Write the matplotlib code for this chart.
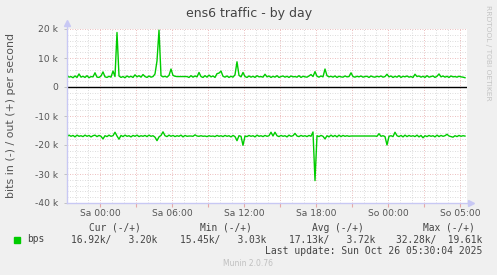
import matplotlib
matplotlib.use("Agg")
import matplotlib.pyplot as plt
import numpy as np
from matplotlib.lines import Line2D
from matplotlib.patches import Rectangle

# ---- data (values in k bits/s, 10-minute samples starting Fri 21:15) ----
t_start_hours = -2.75
step_hours = 1.0 / 6.0

out_k = [
    4.0, 3.4, 3.6, 3.2, 3.8, 3.3, 4.5, 3.4, 3.7, 3.3,
    3.9, 3.2, 3.6, 3.5, 4.9, 3.4, 3.3, 3.8, 5.2, 3.5,
    3.3, 3.7, 3.4, 5.5, 3.6, 18.8, 3.8, 3.3, 3.6, 3.2,
    3.8, 3.4, 3.7, 3.3, 4.2, 3.5, 3.9, 3.4, 4.3, 3.6,
    3.3, 3.8, 3.4, 3.6, 4.5, 9.0, 19.61, 3.9, 3.5, 3.7,
    3.4, 4.0, 6.2, 4.0, 3.7, 3.6, 3.6, 3.6, 3.6, 3.6,
    3.6, 3.3, 3.9, 3.4, 3.8, 3.5, 5.0, 3.6, 3.3, 3.9,
    3.4, 4.1, 3.5, 3.8, 3.3, 4.6, 4.8, 5.5, 3.7, 3.4,
    3.8, 3.3, 3.7, 3.4, 4.2, 8.7, 4.0, 3.5, 5.0, 3.6,
    3.3, 3.8, 3.4, 3.7, 3.3, 3.9, 3.5, 3.6, 3.4, 4.4,
    3.5, 3.8, 3.3, 3.7, 3.4, 3.9, 3.3, 3.6, 3.8, 3.4,
    3.7, 3.3, 3.8, 3.5, 3.6, 3.4, 3.9, 3.3, 3.7, 3.5,
    3.4, 3.8, 4.3, 3.6, 5.3, 3.7, 3.4, 3.8, 3.5, 6.2,
    3.9, 3.5, 3.7, 3.4, 3.8, 3.3, 3.7, 3.5, 3.4, 3.8,
    3.5, 3.6, 4.9, 3.6, 3.4, 3.7, 3.5, 3.8, 3.4, 3.6,
    3.7, 3.3, 3.8, 3.5, 3.4, 3.7, 3.5, 3.8, 3.4, 3.6,
    4.4, 3.5, 3.8, 3.3, 3.7, 3.4, 3.9, 3.3, 3.7, 3.5,
    3.8, 3.4, 3.6, 3.3, 4.4, 3.6, 3.8, 3.4, 3.7, 3.3,
    3.9, 3.4, 3.6, 3.8, 3.3, 3.7, 4.5, 3.5, 3.8, 3.4,
    3.7, 3.3, 3.8, 3.5, 3.6, 3.4, 3.7, 3.5, 3.4, 3.2,
]

in_k = [
    17.1, 16.6, 17.0, 16.7, 17.2, 16.6, 17.0, 16.8, 17.1, 16.6,
    17.0, 16.7, 17.2, 16.8, 16.6, 17.1, 16.7, 17.0, 17.9, 16.8,
    17.1, 16.6, 17.0, 16.8, 15.6, 16.9, 18.0, 16.7, 17.1, 16.6,
    17.0, 16.8, 17.2, 16.7, 17.0, 16.6, 17.1, 16.8, 17.0, 16.7,
    17.1, 16.6, 17.0, 16.8, 17.3, 18.5, 17.2, 16.7, 15.45, 16.8,
    17.1, 16.6, 17.0, 16.7, 17.1, 16.8, 17.0, 16.6, 17.2, 16.7,
    17.0, 16.9, 16.9, 17.0, 16.5, 16.9, 17.0, 16.8, 17.0, 16.9,
    17.1, 16.8, 17.0, 16.9, 17.1, 16.7, 17.0, 16.8, 17.1, 16.7,
    17.0, 16.8, 17.2, 16.7, 17.1, 18.5, 16.8, 17.0, 20.1, 16.9,
    17.1, 16.7, 17.0, 16.8, 17.2, 16.6, 17.0, 16.8, 17.1, 16.7,
    17.0, 16.8, 15.6, 16.9, 15.6, 16.8, 17.1, 16.7, 17.0, 16.8,
    17.2, 16.6, 17.0, 16.8, 16.0, 16.9, 17.1, 16.7, 17.0, 16.8,
    17.1, 16.7, 17.0, 15.5, 32.28, 16.8, 17.1, 16.7, 17.0, 17.9,
    16.8, 17.2, 16.6, 17.1, 16.7, 17.2, 16.6, 17.1, 16.7, 17.0,
    16.8, 17.0, 16.9, 16.9, 16.9, 16.9, 16.9, 16.9, 16.9, 16.9,
    16.9, 16.9, 16.9, 16.9, 16.9, 17.0, 16.1, 17.0, 16.8, 17.1,
    20.0, 17.0, 16.8, 17.1, 15.6, 16.8, 17.1, 16.7, 17.2, 16.6,
    17.1, 16.7, 17.0, 16.8, 17.1, 16.6, 17.2, 16.7, 17.5, 16.8,
    17.1, 16.7, 17.0, 16.8, 17.2, 16.6, 17.1, 16.7, 17.0, 16.8,
    16.3, 16.9, 17.1, 17.3, 16.8, 17.1, 16.7, 17.0, 16.8, 16.92,
]

x_tick_hours = [0, 6, 12, 18, 24, 30]
x_tick_labels = ["Sa 00:00", "Sa 06:00", "Sa 12:00", "Sa 18:00", "So 00:00", "So 05:00"]
y_ticks = [20, 10, 0, -10, -20, -30, -40]
y_tick_labels = ["20 k", "10 k", "0", "-10 k", "-20 k", "-30 k", "-40 k"]

title = "ens6 traffic - by day"
ylabel = "bits in (-) / out (+) per second"
legend_name = "bps"
legend_headers = ["Cur (-/+)", "Min (-/+)", "Avg (-/+)", "Max (-/+)"]
legend_values = ["16.92k/   3.20k", "15.45k/   3.03k", "17.13k/   3.72k", "32.28k/  19.61k"]
last_update = "Last update: Sun Oct 26 05:30:04 2025"
footer = "Munin 2.0.76"
side_text = "RRDTOOL / TOBI OETIKER"

# ---- figure ----
W, H = 497, 275
fig = plt.figure(figsize=(W / 100, H / 100), dpi=100, facecolor="#F0F0F0")

def fx(px):
    return px / W

def fy(py):
    return 1 - py / H

L, R, T, B = 67, 467, 29, 203
ax = fig.add_axes([fx(L), fy(B), (R - L) / W, (B - T) / H])
ax.set_facecolor("white")

t = t_start_hours + step_hours * np.arange(len(out_k))
ax.set_xlim(-2.75, -2.75 + 400 / 12)
ax.set_ylim(-40, 20)

# grid
minor_c = "#d0d0d0"
major_c = "#e6a8a8"
for h in np.arange(-2, 31, 1):
    if h % 3 != 0:
        ax.axvline(h, color=minor_c, lw=0.6, ls=(0, (1, 2)), zorder=1)
for h in np.arange(0, 31, 3):
    ax.axvline(h, color=major_c, lw=0.6, ls=(0, (1, 2)), zorder=1)
for v in np.arange(-40, 21, 2):
    if v % 10 != 0:
        ax.axhline(v, color=minor_c, lw=0.6, ls=(0, (1, 2)), zorder=1)
for v in np.arange(-40, 21, 10):
    ax.axhline(v, color=major_c, lw=0.6, ls=(0, (1, 2)), zorder=1)

# data
green = "#00CC00"
ax.plot(t, out_k, color=green, lw=1.0, zorder=3)
ax.plot(t, [-v for v in in_k], color=green, lw=1.0, zorder=3)
ax.axhline(0, color="black", lw=1.0, zorder=4)

# ticks
ax.set_xticks(x_tick_hours)
ax.set_xticklabels(x_tick_labels)
ax.set_xticks(np.arange(0, 31, 3), minor=True)
ax.set_yticks(y_ticks)
ax.set_yticklabels(y_tick_labels)
ax.tick_params(axis="x", which="both", length=3, width=0.8, color=major_c,
               labelsize=6.6, labelcolor="#555555", pad=1.5)
ax.tick_params(axis="y", which="both", length=2, width=0.6, color="#bbbbbb",
               labelsize=6.6, labelcolor="#555555", pad=4.5)
for s in ax.spines.values():
    s.set_visible(False)

# axes lines with arrows
axis_c = "#c8c8f4"
fig.add_artist(Line2D([fx(L), fx(L)], [fy(B), fy(23)], color=axis_c, lw=1.0))
fig.add_artist(Line2D([fx(L), fx(471)], [fy(B), fy(B)], color=axis_c, lw=1.0))
fig.add_artist(Line2D([fx(L)], [fy(23)], marker="^", color=axis_c, markersize=4.5, lw=0))
fig.add_artist(Line2D([fx(471)], [fy(B)], marker=">", color=axis_c, markersize=4.5, lw=0))

# texts
fig.text(fx(249), fy(13), title, ha="center", va="center", fontsize=9, color="#444444")
fig.text(fx(11), fy(115), ylabel, ha="center", va="center", rotation=90,
         fontsize=7.9, color="#555555")
fig.text(fx(488), fy(5), side_text, ha="center", va="top", rotation=270,
         fontsize=5.4, color="#c4c4c4")

mono = "DejaVu Sans Mono"
fs = 6.9
txt_c = "#444444"
for hx, hdr in zip([89, 200, 312, 423], legend_headers):
    fig.text(fx(hx), fy(228), hdr, ha="left", va="center", fontsize=fs,
             family=mono, color=txt_c)
fig.add_artist(Rectangle((fx(13.5), fy(242.5)), 6 / W, 6 / H, color=green,
                         transform=fig.transFigure))
fig.text(fx(27), fy(239.5), legend_name, ha="left", va="center", fontsize=fs,
         family=mono, color=txt_c)
for vx, val in zip([157.7, 266.7, 375, 482.3], legend_values):
    fig.text(fx(vx), fy(239.5), val, ha="right", va="center", fontsize=fs,
             family=mono, color=txt_c)
fig.text(fx(482), fy(251), last_update, ha="right", va="center", fontsize=7.0,
         family=mono, color=txt_c)
fig.text(fx(248), fy(264), footer, ha="center", va="center", fontsize=5.5,
         color="#c0c0c0")

fig.savefig("out.png", dpi=100, facecolor=fig.get_facecolor())
